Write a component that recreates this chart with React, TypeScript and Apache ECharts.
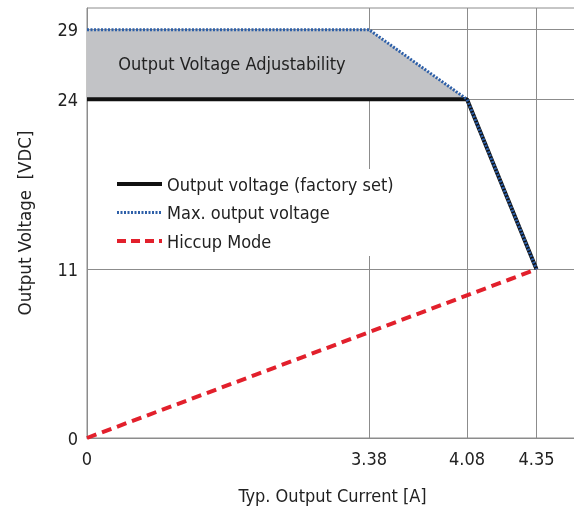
import React, { useEffect, useRef } from "react";
import * as echarts from "echarts";

// ---- data ----
const currentTicks = [0, 3.38, 4.08, 4.35];
const currentTickLabels = ["0", "3.38", "4.08", "4.35"];
const voltageTicks = [0, 11, 24, 29];
const voltageTickLabels = ["0", "11", "24", "29"];

const factoryCurrent = [0, 4.08, 4.35];
const factoryVoltage = [24, 24, 11];
const maxCurrent = [0, 3.38, 4.08, 4.35];
const maxVoltage = [29, 29, 24, 11];
const adjustCurrent = [0, 3.38, 4.08];
const adjustVoltage = [29, 29, 24];
const hiccupCurrent = [0, 4.35];
const hiccupVoltage = [0, 11];

const seriesNames = ["Output voltage (factory set)", "Max. output voltage", "Hiccup Mode"];

// ---- schematic (non-linear) axis layout of the original drawing ----
const X_LAYOUT = [0, 282, 380, 449.5];
const X_MAX = 491;
const Y_LAYOUT = [0, 168.7, 338.7, 408.3];
const Y_MAX = 430;

function schematic(v: number, ticks: number[], layout: number[]) {
  let i = 0;
  while (i < ticks.length - 2 && v > ticks[i + 1]) i++;
  const t = (v - ticks[i]) / (ticks[i + 1] - ticks[i]);
  return layout[i] + t * (layout[i + 1] - layout[i]);
}
const sx = (v: number) => schematic(v, currentTicks, X_LAYOUT);
const sy = (v: number) => schematic(v, voltageTicks, Y_LAYOUT);
const pts = (xs: number[], ys: number[]) => xs.map((x, i) => [sx(x), sy(ys[i])]);

function labelFor(v: number, layout: number[], labels: string[]) {
  let best = 0;
  for (let i = 0; i < layout.length; i++) if (Math.abs(layout[i] - v) < Math.abs(layout[best] - v)) best = i;
  return labels[best];
}

const FONT = "'Liberation Sans Narrow', 'Arial Narrow', 'DejaVu Sans Condensed', sans-serif";
const TEXT = "#222";
const GRID = "#8c8c8c";
const BLACK = "#111";
const BLUE = "#2d5fa8";
const RED = "#e2202c";

export default function App() {
  const ref = useRef<HTMLDivElement>(null);
  useEffect(() => {
    if (!ref.current) return;
    const chart = echarts.init(ref.current, undefined, { renderer: "svg" });
    chart.setOption({
      animation: false,
      textStyle: { fontFamily: FONT },
      grid: { left: 87, top: 8, right: 2, bottom: 72, show: true, borderColor: GRID, borderWidth: 1 },
      xAxis: {
        type: "value",
        min: 0,
        max: X_MAX,
        name: "Typ. Output Current [A]",
        nameLocation: "middle",
        nameGap: 48,
        nameTextStyle: { fontSize: 18, color: TEXT, fontFamily: FONT, padding: [0, 0, 0, 0] },
        nameMoveOverlap: false,
        axisLine: { show: true, lineStyle: { color: GRID } },
        axisTick: { show: false, customValues: X_LAYOUT },
        axisLabel: {
          customValues: X_LAYOUT,
          formatter: (v: number) => labelFor(v, X_LAYOUT, currentTickLabels),
          fontSize: 18,
          color: TEXT,
          margin: 11,
          fontFamily: FONT,
        },
        splitLine: { show: true, lineStyle: { color: GRID, width: 1 } },
      },
      yAxis: {
        type: "value",
        min: 0,
        max: Y_MAX,
        name: "Output Voltage  [VDC]",
        nameLocation: "middle",
        nameGap: 53,
        nameRotate: 90,
        nameTextStyle: { fontSize: 18.5, color: TEXT, fontFamily: FONT },
        axisLine: { show: true, lineStyle: { color: GRID } },
        axisTick: { show: false, customValues: Y_LAYOUT },
        axisLabel: {
          customValues: Y_LAYOUT,
          formatter: (v: number) => labelFor(v, Y_LAYOUT, voltageTickLabels),
          fontSize: 18,
          color: TEXT,
          margin: 9,
          fontFamily: FONT,
        },
        splitLine: { show: true, lineStyle: { color: GRID, width: 1 } },
      },
      legend: {
        data: [
          { name: seriesNames[0], lineStyle: { width: 4, color: BLACK } },
          { name: seriesNames[1], lineStyle: { width: 3, color: BLUE, type: [2, 1.5] } },
          { name: seriesNames[2], lineStyle: { width: 4, color: RED, type: [9, 5] } },
        ],
        orient: "vertical",
        left: 110,
        top: 169,
        padding: [5, 5, 5, 5],
        backgroundColor: "#fff",
        itemWidth: 45,
        itemHeight: 14,
        itemGap: 8.5,
        itemStyle: { opacity: 0, borderWidth: 0 },
        textStyle: { fontSize: 18, color: TEXT, fontFamily: FONT, lineHeight: 20 },
      },
      graphic: [
        {
          type: "text",
          x: 232,
          y: 63,
          style: {
            text: "Output Voltage Adjustability",
            fill: TEXT,
            fontSize: 18,
            fontFamily: FONT,
            align: "center",
            verticalAlign: "middle",
          },
          z: 10,
        },
      ],
      series: [
        {
          name: "adjust",
          type: "line",
          data: pts(adjustCurrent, adjustVoltage),
          symbol: "none",
          lineStyle: { width: 0 },
          areaStyle: { color: "#c2c3c6", opacity: 1, origin: sy(24) },
          z: 1,
          silent: true,
        },
        {
          name: seriesNames[0],
          type: "line",
          data: pts(factoryCurrent, factoryVoltage),
          symbol: "none",
          color: BLACK,
          lineStyle: { color: BLACK, width: 4 },
          z: 3,
        },
        {
          name: seriesNames[1],
          type: "line",
          data: pts(maxCurrent, maxVoltage),
          symbol: "none",
          color: BLUE,
          lineStyle: { color: BLUE, width: 3, type: [2, 1.5] },
          z: 4,
        },
        {
          name: seriesNames[2],
          type: "line",
          data: pts(hiccupCurrent, hiccupVoltage),
          symbol: "none",
          color: RED,
          lineStyle: { color: RED, width: 4, type: [10, 6] },
          z: 5,
        },
      ],
    });
    return () => chart.dispose();
  }, []);
  return <div ref={ref} style={{ width: 580, height: 510, position: "fixed", left: 0, top: 0 }} />;
}
